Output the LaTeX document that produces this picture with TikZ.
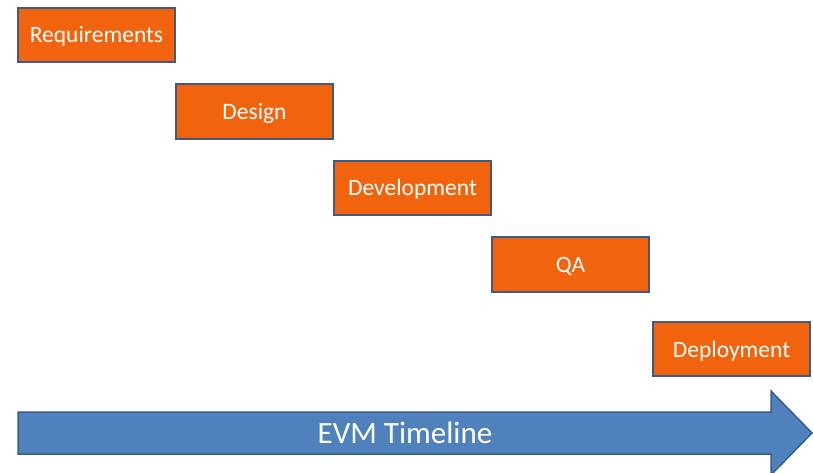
\documentclass[tikz,border=0pt]{standalone}
\usepackage{fontspec}
\setmainfont{Carlito}
\usepackage{tikz}
\usetikzlibrary{positioning}
\definecolor{phaseorange}{RGB}{242,99,13}
\definecolor{phaseedge}{RGB}{65,90,130}
\definecolor{timeblue}{RGB}{79,129,189}
\definecolor{timeedge}{RGB}{56,93,138}

\begin{document}
\begin{tikzpicture}[
x=1pt,y=1pt,
phase/.style={
  draw=phaseedge,
  fill=phaseorange,
  line width=2pt,
  text=white,
  minimum width=157pt,
  minimum height=54.5pt,
  font=\fontsize{23.5}{28}\selectfont,
  text height=16pt,
  text depth=0pt
  },
node distance={20pt and -1pt}
]
\useasboundingbox (0,0) rectangle (813,-473);
\node[phase] (req) at (96.5,-35) {Requirements};
\foreach \Name/\Prev/\Label in {des/req/Design,dev/des/Development,qa/dev/QA}
  \node[phase,below right=of \Prev] (\Name) {\Label};
\node[phase,below right=28pt and 2pt of qa] (dep) {Deployment};
% timeline arrow
\draw[timeedge,fill=timeblue,line width=1.5pt,line join=miter]
(18,-412) -- (771,-412) -- (771,-391) -- (812,-433) -- (771,-475)
-- (771,-454) -- (18,-454) -- cycle;
\node[text=white,font=\fontsize{31}{36}\selectfont,text height=21pt,text depth=0pt]
(evm) at (405,-433) {EVM Timeline};
\end{tikzpicture}
\end{document}
